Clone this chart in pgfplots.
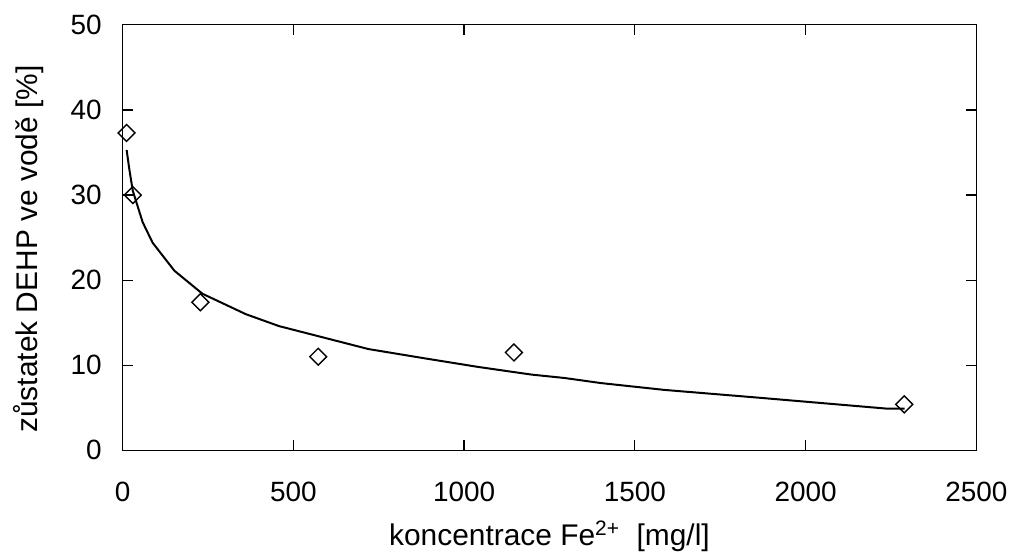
\documentclass[border=0pt]{standalone}
\usepackage{pgfplots}
\pgfplotsset{compat=1.18}
\usepackage{fontspec}
\setmainfont{Liberation Sans}

\begin{document}
\begin{tikzpicture}
\begin{axis}[
    name=ax,
    scale only axis,
    width=428.5pt, height=213.5pt,
    xmin=0, xmax=2500,
    ymin=0, ymax=50,
    xtick={0,500,1000,1500,2000,2500},
    ytick={0,10,20,30,40,50},
    tick pos=both,
    tick align=inside,
    major tick length=5pt,
    axis line style={line width=0.6pt},
    every tick/.style={black, line width=0.6pt},
    /pgf/number format/assume math mode=true,
    /pgf/number format/set thousands separator={},
    tick label style={font=\fontsize{14}{16}\selectfont},
    xticklabel style={yshift=-12.5pt},
    yticklabel style={xshift=-7pt},
    every axis x label/.style={at={(axis description cs:0.5,0)}, anchor=base,
        yshift=-48pt, font=\fontsize{15}{18}\selectfont},
    every axis y label/.style={at={(axis description cs:-0.0998,0.473)},
        rotate=90, anchor=base, font=\fontsize{15}{18}\selectfont},
    xlabel={koncentrace Fe\textsuperscript{2+}\ \ [mg/l]},
    ylabel={zůstatek DEHP ve vodě [\%]},
]
% fitted curve
\addplot[black, line width=1pt, mark=none] coordinates {
    (12,35.3)(20,33.0)(30,30.5)(59,26.8)(88,24.4)(152,21.1)(234,18.4)
    (361,16.0)(458,14.6)(555,13.6)(652,12.6)(720,11.9)(886,10.8)(1041,9.8)
    (1197,8.9)(1294,8.5)(1401,7.9)(1586,7.1)(1858,6.2)(2004,5.7)(2150,5.2)
    (2237,4.9)(2290,4.9)
};
% measured values
\addplot[only marks, mark=square, mark size=3pt,
    mark options={rotate=45, black, fill=white, line width=0.7pt}] coordinates {
    (11.7,37.3)(30,30.0)(228,17.4)(573,11.0)(1146,11.5)(2289,5.4)
};
\end{axis}
\path ([xshift=-61.5pt,yshift=-52pt]ax.south west) rectangle ([xshift=17pt,yshift=12.5pt]ax.north east);
\end{tikzpicture}
\end{document}
